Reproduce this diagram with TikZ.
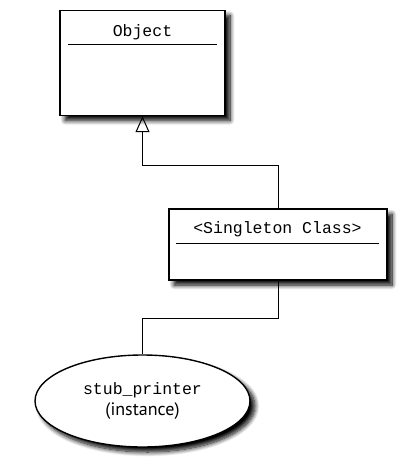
\documentclass[tikz,border=0pt]{standalone}
\usepackage{fontspec}
\setmainfont{PT Sans}
\setmonofont{Liberation Mono}
\usetikzlibrary{arrows.meta,shapes.geometric,shadows.blur}

\begin{document}
\begin{tikzpicture}[x=1pt,y=-1pt,line width=1pt,
        shade/.style={blur shadow={shadow xshift=5pt,shadow yshift=-5pt,
                      shadow blur radius=4.5pt,shadow blur steps=10,shadow opacity=100}},
        cls/.style={draw,line width=1.4pt,fill=white,shade,inner sep=0pt},
        inst/.style={ellipse,draw,line width=1.4pt,fill=white,shade,
                      minimum width=215pt,minimum height=92pt,inner sep=0pt},
        title/.style={font=\fontsize{16.5}{18}\ttfamily},
        isa/.style={-{Triangle[open,length=16pt,width=14pt,line width=1pt]}}]

  \useasboundingbox (0,0) rectangle (403,465);

  % class boxes
  \node[cls,minimum width=165pt,minimum height=105pt] (obj) at (142.5,63) {};
  \node[title] (objname) at (142.5,32) {Object};
  \draw ([xshift=9pt,yshift=-35pt]obj.north west) -- ([xshift=-9pt,yshift=-35pt]obj.north east);

  \node[cls,minimum width=218pt,minimum height=71pt] (single) at (278,244.5) {};
  \node[title] (singlename) at (277.5,229) {<Singleton Class>};
  \draw ([xshift=8pt,yshift=-35pt]single.north west) -- ([xshift=-9pt,yshift=-35pt]single.north east);

  % the instance
  \node[inst,align=center] (printer) at (142.5,401)
        {{\fontsize{16.5}{18}\ttfamily stub\_printer}\\[3pt]{\fontsize{18}{20}\selectfont (instance)}};

  \coordinate (k1) at (0,165);
  \coordinate (k2) at (0,318);
  \draw[isa] (single.north) -- (single.north |- k1) -| (obj.south);
  \draw (single.south) -- (single.south |- k2) -| (printer.north);

\end{tikzpicture}
\end{document}
